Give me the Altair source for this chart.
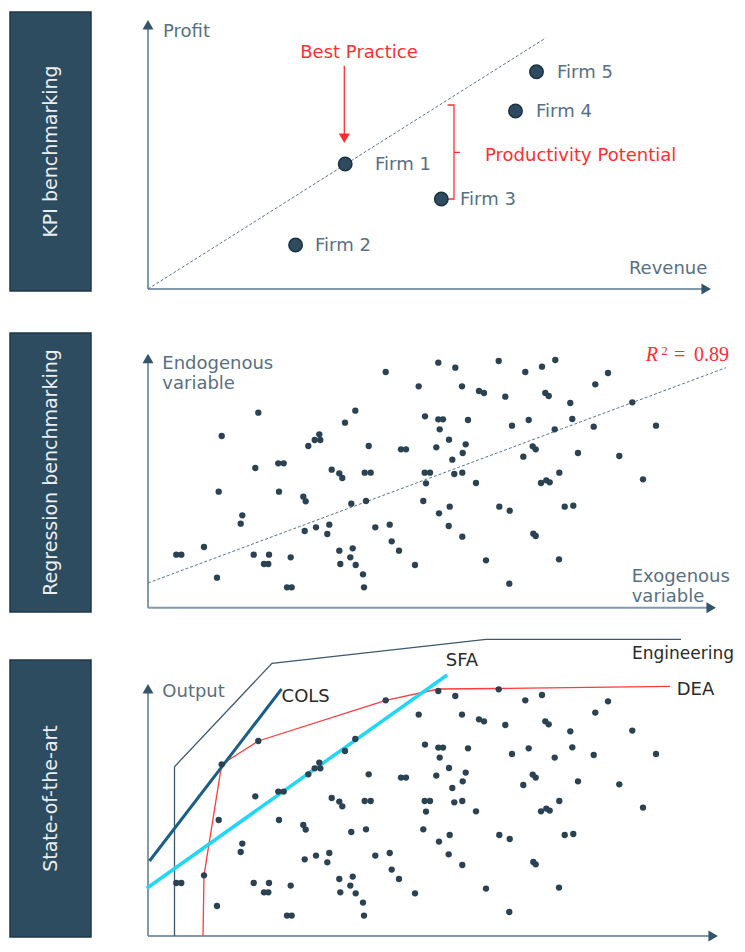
import altair as alt
import pandas as pd

# ---------------- data (units: distance from each panel's axis origin) ----------------
SIDE_LABELS = ["KPI benchmarking", "Regression benchmarking", "State-of-the-art"]

# Panel 1 - KPI benchmarking
FIRM_NAMES = ["Firm 1", "Firm 2", "Firm 3", "Firm 4", "Firm 5"]
FIRM_REVENUE = [197.2, 147.6, 293.3, 367.5, 388.5]
FIRM_PROFIT = [125.0, 44.0, 90.0, 178.0, 217.3]
FIRM_LABEL_X = [227, 167, 312, 388, 409]
FRONTIER_X = [0, 397.7]
FRONTIER_Y = [0, 251]
BRACKET_X = [299.5, 306, 306, 312, 306, 306, 299.5]
BRACKET_Y = [184, 184, 136.7, 136.7, 136.7, 90, 90]
BEST_ARROW_X = [196.3, 196.3]
BEST_ARROW_Y = [223.3, 151]
P1_TEXT = ["Best Practice", "Productivity Potential"]
P1_TEXT_X = [211, 337]
P1_TEXT_Y = [230.7, 128.3]
P1_TEXT_ALIGN = ["center", "left"]
P1_AXIS_LABELS = ["Profit", "Revenue"]
P1_AXIS_LABEL_X = [15, 559.3]
P1_AXIS_LABEL_Y = [252, 15]
P1_AXIS_TIP = [563, 269]

# Panels 2 & 3 - the same cloud of firms
SCATTER_X = [28.3, 33.3, 56, 69, 73.7, 70.7, 94.3, 92.7, 110.3, 107.3, 105.7, 116, 120.3, 121,
             130.3, 135.7, 131, 139, 143.7, 142.7, 155.3, 157.7, 156.7, 160.3, 166.7, 171.3,
             172.3, 168, 179.3, 181.3, 183.7, 191.3, 194.3, 191.3, 192.3, 197, 203.3, 204.7,
             202.3, 207.7, 207.3, 215, 216, 216.7, 222.7, 218, 220.7, 227.3, 237.7, 241.7,
             243.7, 251, 253, 258, 267, 270.7, 275.3, 277, 276.7, 282, 278,
             290.3, 307.3, 350.7, 377.3, 394, 407.3, 314, 331, 336, 357.3, 397.3, 400.7,
             447.3, 460, 422.3, 484.3, 290.3, 295, 291.7, 320, 364, 380.7, 406.7, 424.3,
             445.7, 508, 288.3, 301, 317.7, 314.7, 304.3, 384.7, 387.7, 375.3, 430, 471.3,
             306.3, 314.3, 328, 393, 398.3, 401.7, 411.3, 495, 291, 301.7, 351.3, 361.7,
             416.7, 425.3, 300.7, 314.3, 385.3, 387.7, 338, 411, 361.3]
SCATTER_Y = [53.0, 53.0, 60.7, 30.0, 171.7, 116.0, 92.4, 84.0, 195.0, 139.7, 53.0, 43.7, 43.7, 53.0,
             144.4, 144.4, 116.0, 20.4, 20.4, 50.4, 111.0, 106.4, 76.7, 161.7, 167.7, 173.4,
             167.7, 80.4, 73.7, 83.0, 138.0, 134.4, 129.7, 57.0, 43.7, 185.0, 104.0, 59.4,
             50.4, 42.7, 197.0, 33.4, 20.4, 135.0, 135.0, 106.7, 161.7, 80.4, 235.7, 83.0,
             66.4, 57.0, 158.4, 158.4, 42.7, 221.4, 106.7, 191.4, 135.0, 135.0, 124.4,
             245.0, 240.0, 246.7, 235.7, 241.0, 247.7, 221.4, 216.7, 214.7, 211.0, 214.7, 211.7,
             223.4, 234.7, 204.7, 205.4, 188.4, 188.4, 178.4, 187.7, 182.0, 187.7, 178.4, 188.7,
             181.0, 182.0, 160.4, 168.0, 163.4, 154.7, 148.0, 161.4, 158.4, 151.0, 154.7, 151.7,
             133.7, 135.0, 124.7, 124.7, 127.4, 125.4, 135.0, 128.4, 94.4, 101.0, 101.0, 97.0,
             101.0, 102.0, 81.7, 71.0, 74.0, 71.7, 47.4, 48.4, 24.0]
SOTA_OMITTED = [(407.3, 247.7)]  # firm not drawn in the state-of-the-art panel

REG_X = [0, 578]
REG_Y = [24.7, 240]
P2_AXIS_LABELS = ["Endogenous", "variable", "Exogenous", "variable"]
P2_AXIS_LABEL_X = [14.3, 14.3, 483.7, 483.7]
P2_AXIS_LABEL_Y = [238.4, 218.4, 26.2, 5.7]
P2_AXIS_TIP = [568, 254]
R2_PARTS = ["2", "=", "0.89"]
R2_PARTS_X = [513.3, 526, 546]
R2_PARTS_Y = [252.5, 246.7, 246.7]
R2_PARTS_SIZE = [13, 20, 20]

# Panel 3 - state of the art
ENG_X = [26.5, 26.5, 124, 338, 533]
ENG_Y = [0, 169.3, 272.7, 296.7, 296.7]
DEA_X = [55, 56, 73.7, 110.3, 237.7, 290.3, 350.7, 522]
DEA_Y = [0, 60.7, 171.7, 195.0, 235.7, 247.0, 247.5, 249.7]
COLS_X = [1.5, 133.6]
COLS_Y = [75, 247]
SFA_X = [-1.2, 299.1]
SFA_Y = [47.7, 261]
CURVE_LABELS = ["COLS", "SFA", "Engineering", "DEA"]
CURVE_LABEL_X = [133.6, 297.7, 484, 528.7]
CURVE_LABEL_Y = [234.3, 270, 276.7, 241]
CURVE_LABEL_SIZE = [18, 18, 17, 18]
P3_AXIS_LABELS = ["Output"]
P3_AXIS_LABEL_X = [14.3]
P3_AXIS_LABEL_Y = [238.7]
P3_AXIS_TIP = [570, 252]

# ---------------- layout & style ----------------
FONT = "DejaVu Sans"
BOX_W = 81
BOX_H = [279, 279, 277]
PLOT_W = 636
ROW_H = [279, 285, 277]
X_DOMAIN = [-49, 587]
Y_DOMAINS = [[-2, 277], [-10.3, 274.7], [-1, 276]]
BOX_FILL = "#2D4C60"
BOX_STROKE = "#1E3748"
BOX_TEXT = "#E9EEF2"
AXIS_LINE = "#8398A8"
ARROW = "#33546A"
LABEL = "#587083"
DARK_LABEL = "#2A2A2A"
RED = "#FF2E2E"
DOT = "#2B4253"


def enc(i, xf="x", yf="y"):
    return dict(
        x=alt.X(f"{xf}:Q", scale=alt.Scale(domain=X_DOMAIN, nice=False, zero=False), axis=None),
        y=alt.Y(f"{yf}:Q", scale=alt.Scale(domain=Y_DOMAINS[i], nice=False, zero=False), axis=None),
    )


def axes(i, tip):
    xt, yt = tip
    lines = pd.DataFrame({"x": [0, 0], "y": [0, 0], "x2": [0, xt - 6], "y2": [yt - 6, 0]})
    heads = pd.DataFrame({"x": [0, xt - 4.8], "y": [yt - 4.8, 0],
                          "shape": ["triangle-up", "triangle-right"]})
    r = alt.Chart(lines).mark_rule(color=AXIS_LINE, strokeWidth=2).encode(
        **enc(i), x2="x2:Q", y2="y2:Q")
    h = alt.Chart(heads).mark_point(filled=True, size=121, opacity=1, color=ARROW).encode(
        **enc(i), shape=alt.Shape("shape:N", scale=None))
    return [r, h]


def texts(i, labels, xs, ys, color, align="left", baseline="alphabetic", size=18, font=FONT, **kw):
    df = pd.DataFrame({"x": xs, "y": ys, "t": labels})
    return alt.Chart(df).mark_text(align=align, baseline=baseline, font=font, fontSize=size,
                                   color=color, **kw).encode(**enc(i), text="t:N")


def path(i, xs, ys, **kw):
    df = pd.DataFrame({"x": xs, "y": ys, "o": list(range(len(xs)))})
    return alt.Chart(df).mark_line(**kw).encode(**enc(i), order="o:Q")


# ---------------- panel 1 ----------------
p1 = []
p1 += axes(0, P1_AXIS_TIP)
p1.append(path(0, FRONTIER_X, FRONTIER_Y, color="#5A7488", strokeWidth=1, strokeDash=[3, 2]))
p1.append(path(0, BRACKET_X, BRACKET_Y, color=RED, strokeWidth=1.3))
p1.append(path(0, BEST_ARROW_X, BEST_ARROW_Y, color=RED, strokeWidth=1.3))
p1.append(alt.Chart(pd.DataFrame({"x": [BEST_ARROW_X[1]], "y": [BEST_ARROW_Y[1] - 0.2]}))
          .mark_point(shape="triangle-down", filled=True, size=121, opacity=1, color=RED)
          .encode(**enc(0)))
firms = pd.DataFrame({"x": FIRM_REVENUE, "y": FIRM_PROFIT, "lx": FIRM_LABEL_X, "t": FIRM_NAMES})
p1.append(alt.Chart(firms).mark_circle(size=180, opacity=1, color="#2E4B60",
                                       stroke="#1B3343", strokeWidth=1.5).encode(**enc(0)))
p1.append(alt.Chart(firms).mark_text(align="left", baseline="middle", font=FONT, fontSize=18,
                                     color=LABEL, dy=1).encode(**enc(0, xf="lx"), text="t:N"))
for k in range(2):
    p1.append(texts(0, [P1_TEXT[k]], [P1_TEXT_X[k]], [P1_TEXT_Y[k]], RED, align=P1_TEXT_ALIGN[k]))
p1.append(texts(0, [P1_AXIS_LABELS[0]], [P1_AXIS_LABEL_X[0]], [P1_AXIS_LABEL_Y[0]], LABEL))
p1.append(texts(0, [P1_AXIS_LABELS[1]], [P1_AXIS_LABEL_X[1]], [P1_AXIS_LABEL_Y[1]], LABEL,
                align="right"))
panel1 = alt.layer(*p1).properties(width=PLOT_W, height=ROW_H[0])

# ---------------- panel 2 ----------------
scatter = pd.DataFrame({"x": SCATTER_X, "y": SCATTER_Y})
p2 = []
p2 += axes(1, P2_AXIS_TIP)
p2.append(path(1, REG_X, REG_Y, color="#5A7488", strokeWidth=1, strokeDash=[3, 2]))
p2.append(alt.Chart(scatter).mark_circle(size=40, opacity=1, color=DOT).encode(**enc(1)))
p2.append(texts(1, P2_AXIS_LABELS, P2_AXIS_LABEL_X, P2_AXIS_LABEL_Y, LABEL))
p2.append(texts(1, ["R"], [497.7], [246.7], RED, size=20, font="Liberation Serif",
                fontStyle="italic"))
r2 = pd.DataFrame({"x": R2_PARTS_X, "y": R2_PARTS_Y, "t": R2_PARTS, "s": R2_PARTS_SIZE})
p2.append(alt.Chart(r2).mark_text(align="left", baseline="alphabetic", font="Liberation Serif",
                                  color=RED).encode(**enc(1), text="t:N",
                                                    size=alt.Size("s:Q", scale=None)))
panel2 = alt.layer(*p2).properties(width=PLOT_W, height=ROW_H[1])

# ---------------- panel 3 ----------------
omit = set(SOTA_OMITTED)
scatter3 = scatter[[(a, b) not in omit for a, b in zip(SCATTER_X, SCATTER_Y)]]
curve_lbl = pd.DataFrame({"x": CURVE_LABEL_X, "y": CURVE_LABEL_Y, "t": CURVE_LABELS,
                          "s": CURVE_LABEL_SIZE})
p3 = []
p3 += axes(2, P3_AXIS_TIP)
p3.append(path(2, ENG_X, ENG_Y, color="#3D5A6E", strokeWidth=1.3))
p3.append(path(2, DEA_X, DEA_Y, color="#FF3B3B", strokeWidth=1.3))
p3.append(path(2, COLS_X, COLS_Y, color="#1B5F86", strokeWidth=3))
p3.append(path(2, SFA_X, SFA_Y, color="#22D6F6", strokeWidth=3.5))
p3.append(alt.Chart(scatter3).mark_circle(size=40, opacity=1, color=DOT).encode(**enc(2)))
p3.append(texts(2, P3_AXIS_LABELS, P3_AXIS_LABEL_X, P3_AXIS_LABEL_Y, LABEL))
p3.append(alt.Chart(curve_lbl).mark_text(align="left", baseline="alphabetic", font=FONT,
                                         color=DARK_LABEL).encode(
    **enc(2), text="t:N", size=alt.Size("s:Q", scale=None)))
panel3 = alt.layer(*p3).properties(width=PLOT_W, height=ROW_H[2])


# ---------------- side boxes ----------------
def side_box(i):
    unit = alt.Scale(domain=[0, 1], nice=False, zero=False)
    rect = alt.Chart(pd.DataFrame({"x0": [0], "x1": [1], "y0": [0], "y1": [1]})).mark_rect(
        fill=BOX_FILL, stroke=BOX_STROKE, strokeWidth=1.5).encode(
        x=alt.X("x0:Q", scale=unit, axis=None), x2="x1:Q",
        y=alt.Y("y0:Q", scale=unit, axis=None), y2="y1:Q")
    txt = alt.Chart(pd.DataFrame({"x": [0.5], "y": [0.5], "t": [SIDE_LABELS[i]]})).mark_text(
        angle=270, align="center", baseline="middle", font=FONT, fontSize=19,
        color=BOX_TEXT).encode(
        x=alt.X("x:Q", scale=unit, axis=None), y=alt.Y("y:Q", scale=unit, axis=None), text="t:N")
    return alt.layer(rect, txt).properties(width=BOX_W, height=BOX_H[i])


cells = []
for i, panel in enumerate([panel1, panel2, panel3]):
    cells += [side_box(i), panel]

chart = (alt.concat(*cells, columns=2, spacing={"row": 42, "column": 8}, bounds="flush")
         .resolve_scale(x="independent", y="independent")
         .properties(padding={"left": 1, "top": 3, "right": 0, "bottom": 0},
                     background="white")
         .configure_view(stroke=None))

chart.save("out.html", embed_options={"renderer": "svg", "actions": False})
